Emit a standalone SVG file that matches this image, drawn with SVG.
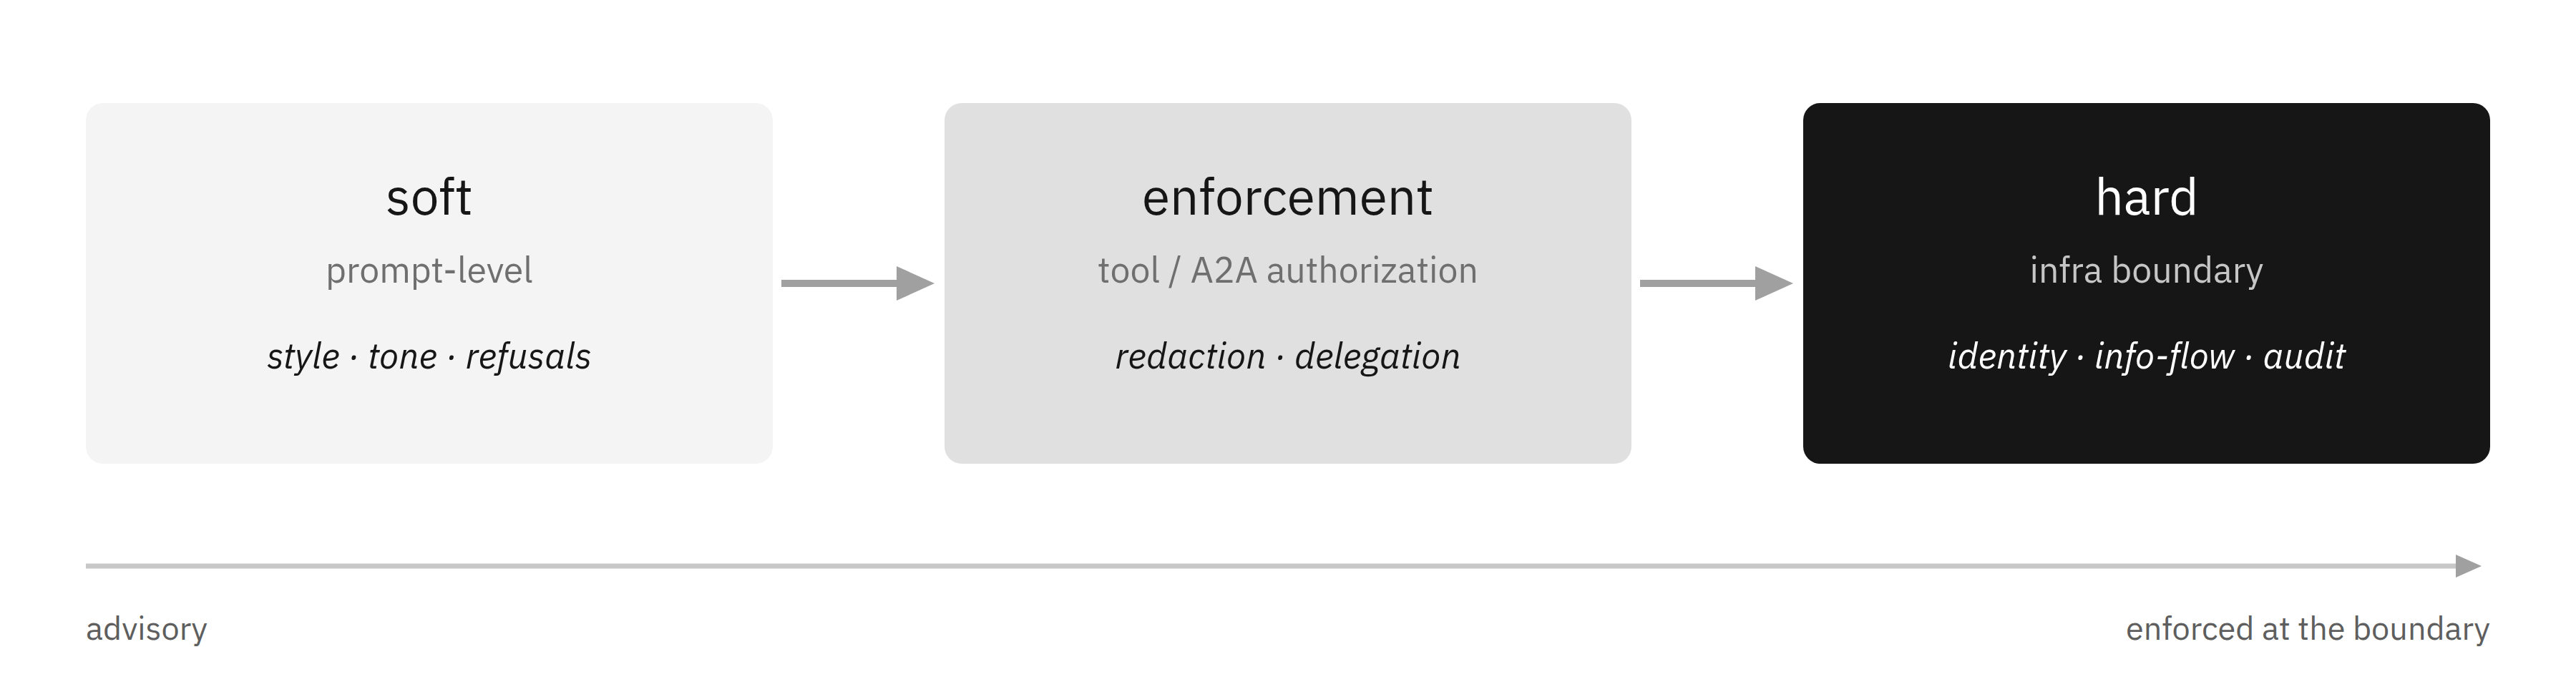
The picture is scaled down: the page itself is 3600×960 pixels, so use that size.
<svg xmlns="http://www.w3.org/2000/svg" width="3600" height="960" viewBox="0 0 3600 960">
<defs>
<style>
text { font-family: "IBM Plex Sans", "Noto Sans", "Liberation Sans", sans-serif; }
.title { font-size: 71px; text-anchor: middle; }
.sub { font-size: 50px; text-anchor: middle; }
.items { font-size: 50px; text-anchor: middle; font-style: italic; }
.axis-label { font-size: 45px; fill: #5e5e5e; }
.conn { stroke: #a0a0a0; stroke-width: 10; fill: none; }
.head { fill: #a0a0a0; }
</style>
</defs>
<rect width="3600" height="960" fill="#ffffff"/>

<g id="node-soft">
<rect x="120" y="144" width="960" height="504" rx="24" fill="#f4f4f4"/>
<text class="title" x="600" y="300" fill="#161616">soft</text>
<text class="sub" x="600" y="395" fill="#6f6f6f">prompt-level</text>
<text class="items" x="600" y="515" fill="#161616">style · tone · refusals</text>
</g>

<g id="node-enforcement">
<rect x="1320" y="144" width="960" height="504" rx="24" fill="#e0e0e0"/>
<text class="title" x="1800" y="300" fill="#161616">enforcement</text>
<text class="sub" x="1800" y="395" fill="#6f6f6f">tool / A2A authorization</text>
<text class="items" x="1800" y="515" fill="#161616">redaction · delegation</text>
</g>

<g id="node-hard">
<rect x="2520" y="144" width="960" height="504" rx="24" fill="#161616"/>
<text class="title" x="3000" y="300" fill="#ffffff">hard</text>
<text class="sub" x="3000" y="395" fill="#c6c6c6">infra boundary</text>
<text class="items" x="3000" y="515" fill="#ffffff">identity · info-flow · audit</text>
</g>

<g id="connectors">
<line class="conn" x1="1092" y1="396" x2="1256" y2="396"/>
<polygon class="head" points="1253,372 1306,396 1253,420"/>
<line class="conn" x1="2292" y1="396" x2="2456" y2="396"/>
<polygon class="head" points="2453,372 2506,396 2453,420"/>
</g>

<g id="axis">
<line x1="120" y1="791" x2="3434" y2="791" stroke="#c8c8c8" stroke-width="7"/>
<polygon class="head" points="3432,775 3468,791 3432,807"/>
<text class="axis-label" x="120" y="894">advisory</text>
<text class="axis-label" x="3480" y="894" text-anchor="end">enforced at the boundary</text>
</g>
</svg>
